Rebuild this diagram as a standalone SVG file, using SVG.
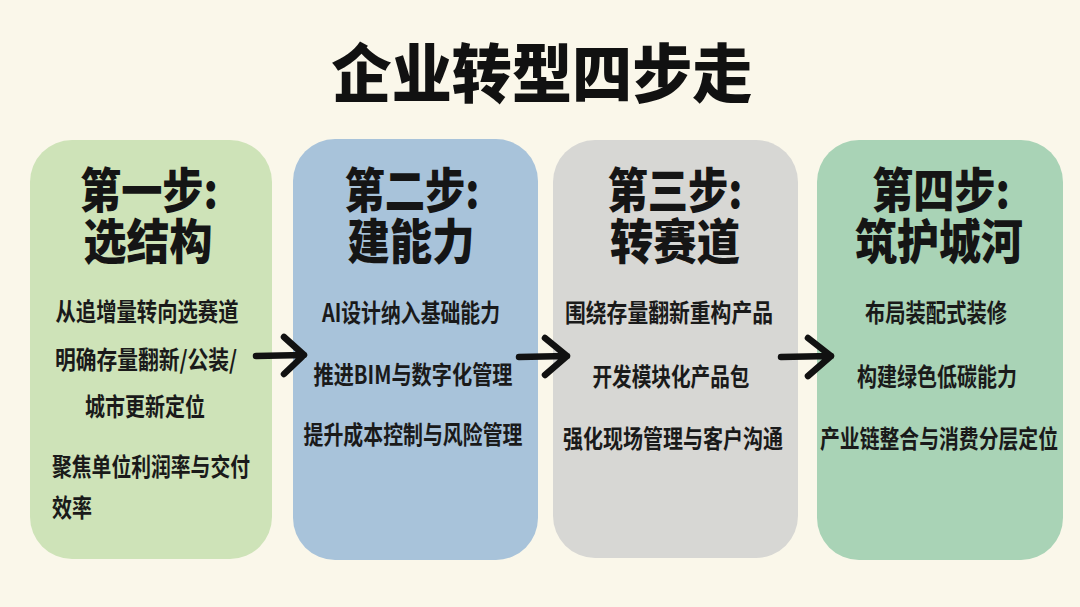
<svg xmlns="http://www.w3.org/2000/svg" width="1080" height="607" viewBox="0 0 1080 607">
  <defs>
    <style>
      .title { font-family: "Noto Sans CJK SC", "Noto Sans", sans-serif; font-weight: 900; font-size: 64px; fill: #111; }
      .head { font-family: "Noto Sans CJK SC", "Noto Sans", sans-serif; font-weight: 900; font-size: 48px; fill: #151515; }
      .body { font-family: "Noto Sans CJK SC", "Noto Sans", sans-serif; font-weight: 700; font-size: 25px; fill: #1a1a1a; }
      .arrow { fill: none; stroke: #111; stroke-width: 6.5; stroke-linecap: round; stroke-linejoin: round; }
    </style>
  </defs>
  <rect x="0" y="0" width="1080" height="607" fill="#faf7ea"/>
  <text class="title" x="542" y="97" text-anchor="middle" textLength="421" lengthAdjust="spacingAndGlyphs">企业转型四步走</text>

  <g id="step1">
    <rect x="30" y="140" width="242" height="419" rx="42" fill="#cee3b8"/>
    <text class="head" x="149" y="208" text-anchor="middle" textLength="138" lengthAdjust="spacingAndGlyphs">第一步:</text>
    <text class="head" x="148" y="259" text-anchor="middle" textLength="129" lengthAdjust="spacingAndGlyphs">选结构</text>
    <text class="body" x="147" y="321" text-anchor="middle" textLength="183" lengthAdjust="spacingAndGlyphs">从追增量转向选赛道</text>
    <text class="body" x="146" y="369" text-anchor="middle" textLength="182" lengthAdjust="spacingAndGlyphs">明确存量翻新/公装/</text>
    <text class="body" x="145" y="416" text-anchor="middle" textLength="120" lengthAdjust="spacingAndGlyphs">城市更新定位</text>
    <text class="body" x="52" y="476" textLength="198" lengthAdjust="spacingAndGlyphs">聚焦单位利润率与交付</text>
    <text class="body" x="52" y="517" textLength="40" lengthAdjust="spacingAndGlyphs">效率</text>
  </g>

  <g id="step2">
    <rect x="293" y="139" width="245" height="421" rx="42" fill="#a8c3da"/>
    <text class="head" x="412" y="208" text-anchor="middle" textLength="135" lengthAdjust="spacingAndGlyphs">第二步:</text>
    <text class="head" x="411" y="259" text-anchor="middle" textLength="127" lengthAdjust="spacingAndGlyphs">建能力</text>
    <text class="body" x="411" y="322" text-anchor="middle" textLength="178" lengthAdjust="spacingAndGlyphs">AI设计纳入基础能力</text>
    <text class="body" x="413" y="384" text-anchor="middle" textLength="199" lengthAdjust="spacingAndGlyphs">推进BIM与数字化管理</text>
    <text class="body" x="413" y="444" text-anchor="middle" textLength="219" lengthAdjust="spacingAndGlyphs">提升成本控制与风险管理</text>
  </g>

  <g id="step3">
    <rect x="553" y="140" width="245" height="418" rx="42" fill="#d7d7d4"/>
    <text class="head" x="675" y="208" text-anchor="middle" textLength="135" lengthAdjust="spacingAndGlyphs">第三步:</text>
    <text class="head" x="675" y="259" text-anchor="middle" textLength="130" lengthAdjust="spacingAndGlyphs">转赛道</text>
    <text class="body" x="669" y="322" text-anchor="middle" textLength="208" lengthAdjust="spacingAndGlyphs">围绕存量翻新重构产品</text>
    <text class="body" x="671" y="386" text-anchor="middle" textLength="157" lengthAdjust="spacingAndGlyphs">开发模块化产品包</text>
    <text class="body" x="673" y="448" text-anchor="middle" textLength="220" lengthAdjust="spacingAndGlyphs">强化现场管理与客户沟通</text>
  </g>

  <g id="step4">
    <rect x="817" y="140" width="246" height="420" rx="42" fill="#a9d3b6"/>
    <text class="head" x="941" y="208" text-anchor="middle" textLength="138" lengthAdjust="spacingAndGlyphs">第四步:</text>
    <text class="head" x="939" y="259" text-anchor="middle" textLength="168" lengthAdjust="spacingAndGlyphs">筑护城河</text>
    <text class="body" x="936" y="322" text-anchor="middle" textLength="142" lengthAdjust="spacingAndGlyphs">布局装配式装修</text>
    <text class="body" x="937" y="386" text-anchor="middle" textLength="160" lengthAdjust="spacingAndGlyphs">构建绿色低碳能力</text>
    <text class="body" x="939" y="448" text-anchor="middle" textLength="238" lengthAdjust="spacingAndGlyphs">产业链整合与消费分层定位</text>
  </g>

  <g id="connectors">
    <path class="arrow" d="M256 356 L304 355 M284 337 L304 355 L284 374"/>
    <path class="arrow" d="M519 357 L567 356 M545 338 L567 356 L545 375"/>
    <path class="arrow" d="M781 357 L831 356 M808 338 L831 356 L808 376"/>
  </g>
</svg>
